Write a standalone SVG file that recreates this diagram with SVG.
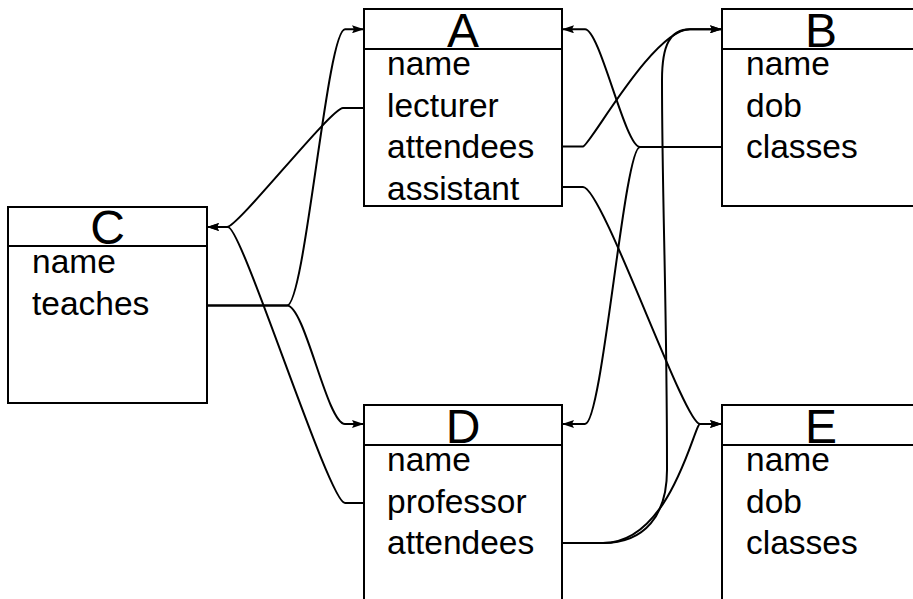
<svg xmlns="http://www.w3.org/2000/svg" width="913" height="599" viewBox="0 0 913 599">
<style>
.box{fill:none;stroke:#000;stroke-width:2}
.title{font-family:"Liberation Sans",Arial,sans-serif;font-size:48px;text-anchor:middle;fill:#000}
.field{font-family:"Liberation Sans",Arial,sans-serif;font-size:33.5px;fill:#000}
.edge{fill:none;stroke:#000;stroke-width:2;marker-end:url(#arrow)}
</style>
<defs>
<marker id="arrow" markerUnits="userSpaceOnUse" viewBox="0 0 12 8" refX="12" refY="4" markerWidth="12" markerHeight="8" orient="auto">
<path d="M0,0 L12,4 L0,8 L2,4 z" fill="#000"/>
</marker>
</defs>
<rect x="0" y="0" width="913" height="599" fill="#fff"/>
<g id="A">
<rect class="box" x="364" y="9" width="198" height="197"/>
<line class="box" x1="364" y1="49" x2="562" y2="49"/>
<text class="title" x="463" y="47">A</text>
<text class="field" x="387" y="75">name</text>
<text class="field" x="387" y="116.7">lecturer</text>
<text class="field" x="387" y="158.3">attendees</text>
<text class="field" x="387" y="200">assistant</text>
</g>
<g id="B">
<rect class="box" x="722" y="9" width="198" height="197"/>
<line class="box" x1="722" y1="49" x2="920" y2="49"/>
<text class="title" x="821" y="47">B</text>
<text class="field" x="746" y="75">name</text>
<text class="field" x="746" y="116.7">dob</text>
<text class="field" x="746" y="158.3">classes</text>
</g>
<g id="C">
<rect class="box" x="8" y="207" width="199" height="196"/>
<line class="box" x1="8" y1="246" x2="207" y2="246"/>
<text class="title" x="107.5" y="244">C</text>
<text class="field" x="32" y="273">name</text>
<text class="field" x="32" y="314.7">teaches</text>
</g>
<g id="D">
<rect class="box" x="364" y="405" width="198" height="197"/>
<line class="box" x1="364" y1="445" x2="562" y2="445"/>
<text class="title" x="463" y="443">D</text>
<text class="field" x="387" y="471">name</text>
<text class="field" x="387" y="512.7">professor</text>
<text class="field" x="387" y="554.3">attendees</text>
</g>
<g id="E">
<rect class="box" x="722" y="405" width="198" height="197"/>
<line class="box" x1="722" y1="445" x2="920" y2="445"/>
<text class="title" x="821" y="443">E</text>
<text class="field" x="746" y="471">name</text>
<text class="field" x="746" y="512.7">dob</text>
<text class="field" x="746" y="554.3">classes</text>
</g>
<g id="connectors">
<path class="edge" d="M207,305.5 H287 C305,305.5 327,29.3 345,29.3 H364"/>
<path class="edge" d="M207,305.5 H287 C305,305.5 327,424 345,424 H364"/>
<path class="edge" d="M364,108 H343 C331,108 238,227 227,227 H207"/>
<path class="edge" d="M364,503 H345 C329,503 242,227 228,227 H207"/>
<path class="edge" d="M562,146.5 H583 C589.5,146.5 653,29.3 690,29.3 H722"/>
<path class="edge" d="M562,187 H583 C602.5,187 684,424 700,424 H722"/>
<path class="edge" d="M722,147 H640 C625,147 600,29.3 585,29.3 H562"/>
<path class="edge" d="M722,147 H640 C624,147 602.5,424 585,424 H562"/>
<path class="edge" d="M562,543 H603 C671,543 694,424 700,424 H722"/>
<path class="edge" d="M562,543 H603 C645,543 667,515 667,470 C667,300 662,200 662,80 C662,45 670,29.3 690,29.3 H722"/>
</g>
</svg>
